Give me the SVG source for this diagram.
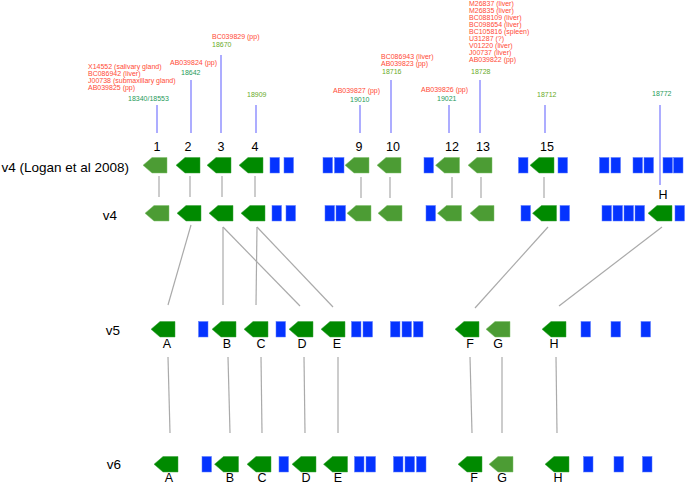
<svg xmlns="http://www.w3.org/2000/svg" xmlns:xlink="http://www.w3.org/1999/xlink" width="685" height="485" viewBox="0 0 685 485">
<style>
text{font-family:"Liberation Sans",Arial,sans-serif}
.r{fill:#ff4a36;font-size:7px}
.t{fill:#1f9a5a;font-size:7px}
.o{fill:#6aaa28;font-size:7px}
.n{fill:#000;font-size:12.5px;text-anchor:middle}
.row{fill:#000;font-size:13.5px;text-anchor:end}
.tick{stroke:#8a8aff;stroke-width:1.4;fill:none}
.link{stroke:#aaaaaa;stroke-width:1.2;fill:none}
</style>
<defs>
<path id="gd" d="M0,7.75 L9,0 L24,0 L24,15.5 L9,15.5 Z" fill="#008a00" stroke="#3aa33a" stroke-width="0.5"/>
<path id="gl" d="M0,7.75 L9,0 L24,0 L24,15.5 L9,15.5 Z" fill="#4c9c34" stroke="#7cc06a" stroke-width="0.5"/>
<rect id="b" x="0" y="0" width="9.5" height="15.5" fill="#0433ff" stroke="#5a7aff" stroke-width="0.5"/>
</defs>

<g id="annotations">
<text class="r" x="88" y="68.5">X14552 (salivary gland)</text>
<text class="r" x="88" y="75.5">BC086942 (liver)</text>
<text class="r" x="88" y="82.5">J00738 (submaxillary gland)</text>
<text class="r" x="88" y="89.5">AB039825 (pp)</text>
<text class="t" x="128" y="100.5">18340/18553</text>
<text class="r" x="170" y="64.5">AB039824 (pp)</text>
<text class="t" x="181" y="74.5">18642</text>
<text class="r" x="212" y="38.5">BC039829 (pp)</text>
<text class="o" x="212" y="46.5">18670</text>
<text class="o" x="247" y="96.5">18909</text>
<text class="r" x="333" y="92.5">AB039827 (pp)</text>
<text class="t" x="350" y="101.5">19010</text>
<text class="r" x="381" y="58.5">BC086943 (liver)</text>
<text class="r" x="381" y="65.5">AB039823 (pp)</text>
<text class="o" x="382" y="73.5">18716</text>
<text class="r" x="421" y="91.5">AB039826 (pp)</text>
<text class="t" x="437" y="100.5">19021</text>
<text class="r" x="469" y="5.5">M26837 (liver)</text>
<text class="r" x="469" y="12.6">M26835 (liver)</text>
<text class="r" x="469" y="19.7">BC088109 (liver)</text>
<text class="r" x="469" y="26.8">BC098654 (liver)</text>
<text class="r" x="469" y="33.9">BC105816 (spleen)</text>
<text class="r" x="469" y="41">U31287 (?)</text>
<text class="r" x="469" y="48.1">V01220 (liver)</text>
<text class="r" x="469" y="55.2">J00737 (liver)</text>
<text class="r" x="469" y="62.3">AB039822 (pp)</text>
<text class="o" x="471" y="73.5">18728</text>
<text class="o" x="537" y="96.5">18712</text>
<text class="t" x="652" y="95.5">18772</text>
</g>

<g id="connectors">
<line class="tick" x1="157" y1="105" x2="157" y2="133"/>
<line class="tick" x1="191" y1="80" x2="191" y2="133"/>
<line class="tick" x1="221" y1="55" x2="221" y2="133"/>
<line class="tick" x1="256" y1="105" x2="256" y2="133"/>
<line class="tick" x1="360" y1="105" x2="360" y2="133"/>
<line class="tick" x1="391" y1="80" x2="391" y2="133"/>
<line class="tick" x1="449" y1="105" x2="449" y2="133"/>
<line class="tick" x1="480" y1="80" x2="480" y2="133"/>
<line class="tick" x1="545" y1="105" x2="545" y2="133"/>
<line class="tick" x1="660" y1="105" x2="660" y2="185"/>

<line class="link" x1="159" y1="176" x2="159" y2="197"/>
<line class="link" x1="190" y1="176" x2="190" y2="197"/>
<line class="link" x1="222" y1="176" x2="222" y2="197"/>
<line class="link" x1="255" y1="176" x2="255" y2="197"/>
<line class="link" x1="361" y1="177" x2="361" y2="198"/>
<line class="link" x1="390" y1="177" x2="390" y2="198"/>
<line class="link" x1="452" y1="177" x2="452" y2="198"/>
<line class="link" x1="481" y1="177" x2="481" y2="198"/>
<line class="link" x1="544" y1="177" x2="544" y2="198"/>

<line class="link" x1="191" y1="225" x2="168" y2="305"/>
<line class="link" x1="223" y1="227" x2="223" y2="305"/>
<line class="link" x1="223" y1="227" x2="300" y2="306"/>
<line class="link" x1="257" y1="227" x2="256" y2="305"/>
<line class="link" x1="257" y1="227" x2="333" y2="307"/>
<line class="link" x1="548" y1="227" x2="475" y2="308"/>
<line class="link" x1="662" y1="227" x2="559" y2="306"/>

<line class="link" x1="168" y1="357" x2="170" y2="433"/>
<line class="link" x1="228" y1="357" x2="230" y2="433"/>
<line class="link" x1="261" y1="357" x2="262" y2="433"/>
<line class="link" x1="304" y1="357" x2="305" y2="433"/>
<line class="link" x1="338" y1="357" x2="338" y2="433"/>
<line class="link" x1="470" y1="357" x2="472" y2="433"/>
<line class="link" x1="502" y1="357" x2="502" y2="433"/>
<line class="link" x1="556" y1="357" x2="557" y2="433"/>
</g>

<g id="row-v4-logan">
<text class="row" x="129" y="172">v4 (Logan et al 2008)</text>
<g id="r1-1"><use href="#gl" x="143" y="157.5"/><text class="n" x="157" y="151">1</text></g>
<g id="r1-2"><use href="#gd" x="176" y="157.5"/><text class="n" x="188" y="151">2</text></g>
<g id="r1-3"><use href="#gd" x="207" y="157.5"/><text class="n" x="221" y="151">3</text></g>
<g id="r1-4"><use href="#gd" x="239" y="157.5"/><text class="n" x="255" y="151">4</text></g>
<g id="r1-b1"><use href="#b" x="270" y="157.5"/><use href="#b" x="284" y="157.5"/></g>
<g id="r1-b2"><use href="#b" x="323" y="157.5"/><use href="#b" x="334.5" y="157.5"/></g>
<g id="r1-9"><use href="#gl" x="345" y="157.5"/><text class="n" x="359" y="151">9</text></g>
<g id="r1-10"><use href="#gl" x="377" y="157.5"/><text class="n" x="393" y="151">10</text></g>
<g id="r1-b3"><use href="#b" x="424" y="157.5"/></g>
<g id="r1-12"><use href="#gl" x="435.5" y="157.5"/><text class="n" x="452" y="151">12</text></g>
<g id="r1-13"><use href="#gl" x="468" y="157.5"/><text class="n" x="483" y="151">13</text></g>
<g id="r1-b4"><use href="#b" x="518.5" y="157.5"/></g>
<g id="r1-15"><use href="#gd" x="530" y="157.5"/><text class="n" x="547" y="151">15</text></g>
<g id="r1-b5"><use href="#b" x="558" y="157.5"/></g>
<g id="r1-b6"><use href="#b" x="599.5" y="157.5"/><use href="#b" x="611" y="157.5"/></g>
<g id="r1-b7"><use href="#b" x="633" y="157.5"/><use href="#b" x="644" y="157.5"/></g>
<g id="r1-b8"><use href="#b" x="663" y="157.5"/><use href="#b" x="673.5" y="157.5"/></g>
<g id="r1-H"><text class="n" x="663" y="199">H</text></g>
</g>

<g id="row-v4">
<text class="row" x="117" y="220">v4</text>
<g id="r2-1"><use href="#gl" x="145" y="205.5"/></g>
<g id="r2-2"><use href="#gd" x="177" y="205.5"/></g>
<g id="r2-3"><use href="#gd" x="209" y="205.5"/></g>
<g id="r2-4"><use href="#gd" x="241" y="205.5"/></g>
<g id="r2-b1"><use href="#b" x="272" y="205.5"/><use href="#b" x="286" y="205.5"/></g>
<g id="r2-b2"><use href="#b" x="325" y="205.5"/><use href="#b" x="336" y="205.5"/></g>
<g id="r2-9"><use href="#gl" x="347" y="205.5"/></g>
<g id="r2-10"><use href="#gl" x="378" y="205.5"/></g>
<g id="r2-b3"><use href="#b" x="426" y="205.5"/></g>
<g id="r2-12"><use href="#gl" x="437.5" y="205.5"/></g>
<g id="r2-13"><use href="#gl" x="470" y="205.5"/></g>
<g id="r2-b4"><use href="#b" x="521" y="205.5"/></g>
<g id="r2-15"><use href="#gd" x="532.5" y="205.5"/></g>
<g id="r2-b5"><use href="#b" x="560" y="205.5"/></g>
<g id="r2-b6"><use href="#b" x="602" y="205.5"/><use href="#b" x="613" y="205.5"/><use href="#b" x="624" y="205.5"/><use href="#b" x="635" y="205.5"/></g>
<g id="r2-H"><use href="#gd" x="648" y="205.5"/></g>
<g id="r2-b7"><use href="#b" x="675" y="205.5"/></g>
</g>

<g id="row-v5">
<text class="row" x="120" y="335">v5</text>
<g id="v5-A"><use href="#gd" x="151" y="321.5"/><text class="n" x="167" y="348">A</text></g>
<g id="v5-b1"><use href="#b" x="198.5" y="321.5"/></g>
<g id="v5-B"><use href="#gd" x="212" y="321.5"/><text class="n" x="227" y="348">B</text></g>
<g id="v5-C"><use href="#gd" x="244" y="321.5"/><text class="n" x="261" y="348">C</text></g>
<g id="v5-b2"><use href="#b" x="276" y="321.5"/></g>
<g id="v5-D"><use href="#gd" x="289" y="321.5"/><text class="n" x="302" y="348">D</text></g>
<g id="v5-E"><use href="#gd" x="321" y="321.5"/><text class="n" x="337" y="348">E</text></g>
<g id="v5-b3"><use href="#b" x="351.5" y="321.5"/><use href="#b" x="363" y="321.5"/></g>
<g id="v5-b4"><use href="#b" x="390.5" y="321.5"/><use href="#b" x="402" y="321.5"/><use href="#b" x="413.5" y="321.5"/></g>
<g id="v5-F"><use href="#gd" x="455" y="321.5"/><text class="n" x="470" y="348">F</text></g>
<g id="v5-G"><use href="#gl" x="486" y="321.5"/><text class="n" x="498" y="348">G</text></g>
<g id="v5-H"><use href="#gd" x="542" y="321.5"/><text class="n" x="554" y="348">H</text></g>
<g id="v5-b5"><use href="#b" x="581" y="321.5"/></g>
<g id="v5-b6"><use href="#b" x="611" y="321.5"/></g>
<g id="v5-b7"><use href="#b" x="641" y="321.5"/></g>
</g>

<g id="row-v6">
<text class="row" x="121" y="469">v6</text>
<g id="v6-A"><use href="#gd" x="154" y="456.5"/><text class="n" x="169" y="482">A</text></g>
<g id="v6-b1"><use href="#b" x="202" y="456.5"/></g>
<g id="v6-B"><use href="#gd" x="214.5" y="456.5"/><text class="n" x="230" y="482">B</text></g>
<g id="v6-C"><use href="#gd" x="247" y="456.5"/><text class="n" x="262" y="482">C</text></g>
<g id="v6-b2"><use href="#b" x="279" y="456.5"/></g>
<g id="v6-D"><use href="#gd" x="292" y="456.5"/><text class="n" x="306" y="482">D</text></g>
<g id="v6-E"><use href="#gd" x="323.5" y="456.5"/><text class="n" x="338" y="482">E</text></g>
<g id="v6-b3"><use href="#b" x="354.5" y="456.5"/><use href="#b" x="366" y="456.5"/></g>
<g id="v6-b4"><use href="#b" x="393.5" y="456.5"/><use href="#b" x="405" y="456.5"/><use href="#b" x="416.5" y="456.5"/></g>
<g id="v6-F"><use href="#gd" x="458" y="456.5"/><text class="n" x="474" y="482">F</text></g>
<g id="v6-G"><use href="#gl" x="489" y="456.5"/><text class="n" x="502" y="482">G</text></g>
<g id="v6-H"><use href="#gd" x="545" y="456.5"/><text class="n" x="558" y="482">H</text></g>
<g id="v6-b5"><use href="#b" x="583.5" y="456.5"/></g>
<g id="v6-b6"><use href="#b" x="614" y="456.5"/></g>
<g id="v6-b7"><use href="#b" x="642.5" y="456.5"/></g>
</g>
</svg>
